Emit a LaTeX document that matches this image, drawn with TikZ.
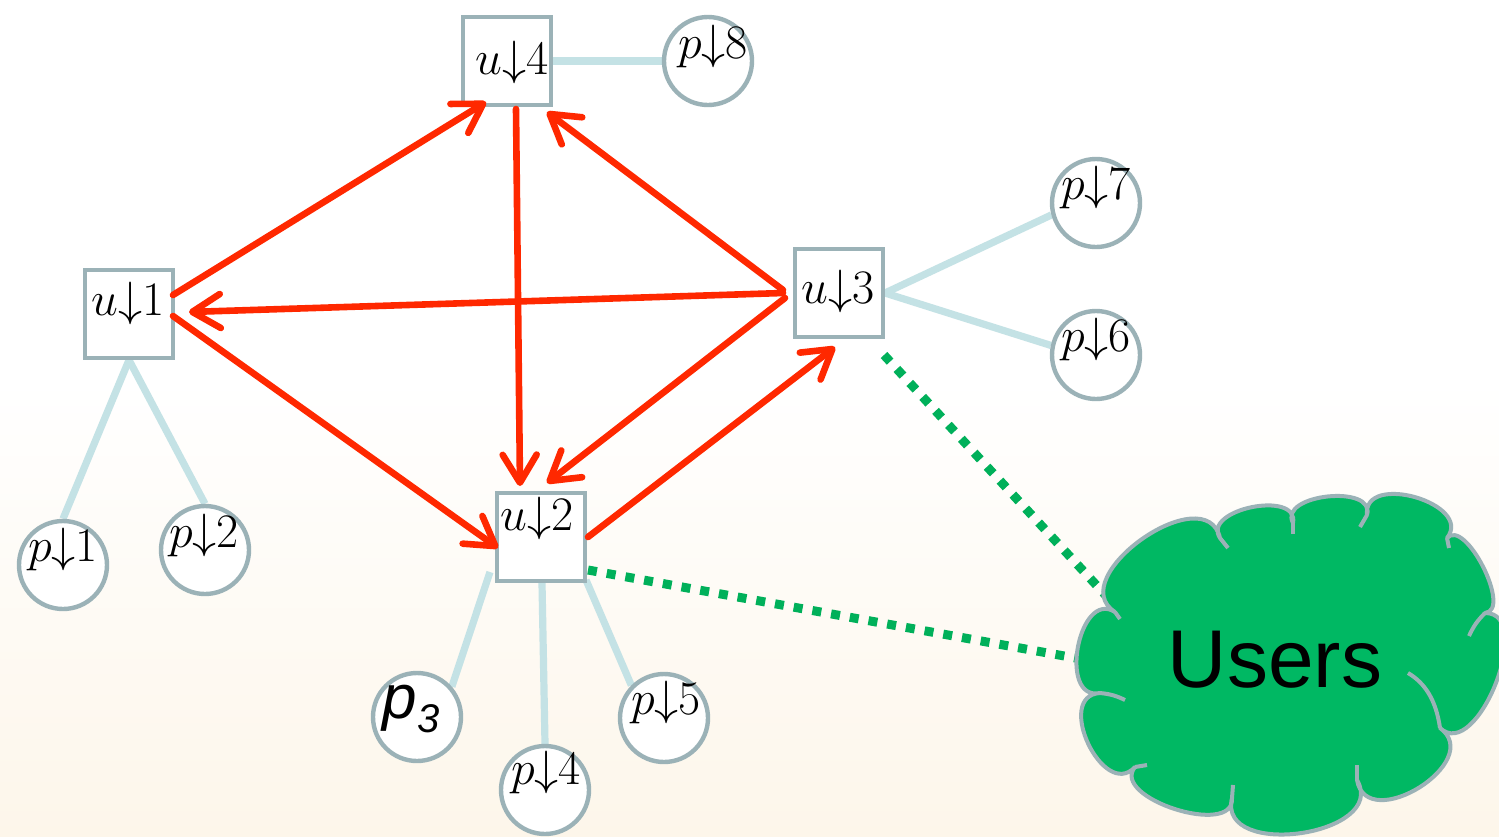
\documentclass[tikz,border=0pt]{standalone}
\usepackage{graphicx}
\usepackage{fontspec}
\newfontfamily\arialfont{Liberation Sans}
\usetikzlibrary{arrows.meta,calc}
\definecolor{bordergray}{HTML}{9BB2B7}
\definecolor{linkblue}{HTML}{C4E2E5}
\definecolor{flowred}{HTML}{FF2800}
\definecolor{usergreen}{HTML}{00B863}
\definecolor{dotgreen}{HTML}{00B05A}
\definecolor{bgcream}{HTML}{FDF6EA}
\pgfdeclarelayer{back}
\pgfsetlayers{back,main}
\newcommand{\idx}[2]{\scalebox{1.16}{$#1{\downarrow}#2$}}

\begin{document}
\begin{tikzpicture}[x=0.5pt,y=-0.5pt,
  userbox/.style={draw=bordergray, line width=2pt, fill=white, minimum size=44pt, inner sep=0pt},
  pagebox/.style={circle, draw=bordergray, line width=2.2pt, fill=white, minimum size=44pt, inner sep=0pt},
  tag/.style={inner sep=0pt, font=\fontsize{21}{24}\selectfont},
  link/.style={draw=linkblue, line width=3.6pt},
  flow/.style={draw=flowred, line width=3.3pt, line cap=round, -{Straight Barb[length=14pt,width=17pt,round]}},
  access/.style={draw=dotgreen, line width=4.5pt, dash pattern=on 4.5pt off 5pt},
  puff/.style={bend right=112, looseness=1.12*#1},
  cloudline/.style={draw=bordergray, line width=2pt},
]
\useasboundingbox (0,0) rectangle (1499,836);

% user nodes
\node[userbox] (u1) at (129,314) {};
\node[userbox] (u4) at (507,61) {};
\node[userbox] (u3) at (839,293) {};
\node[userbox] (u2) at (541,537) {};

% page nodes
\node[pagebox] (p8) at (708,61) {};
\node[pagebox] (p7) at (1096,203) {};
\node[pagebox] (p6) at (1096,355) {};
\node[pagebox] (p1) at (63,565) {};
\node[pagebox] (p2) at (205,550) {};
\node[pagebox] (p3) at (417,717) {};
\node[pagebox] (p4) at (545,790) {};
\node[pagebox] (p5) at (664,718) {};

% users cloud: puffs between junction points, then the inner stubs
\coordinate (users) at (1288,664);
\path[fill=usergreen, cloudline, line join=round]
  (1115,612) to[puff=1.2]  (1100,693) to[puff=1.3]  (1135,767)
             to[puff=0.9]  (1232,798) to[puff=1.16] (1357,780)
             to[puff=1.32] (1440,728) to[puff=0.95] (1485,613)
             to[puff=0.75] (1447,538) to[puff=1.2]  (1367,515)
             to[puff=1.0]  (1293,523) to[puff=1.05] (1220,538)
             to[puff=1.13] (1115,612) -- cycle;
\draw[cloudline] (1115,612) -- (1120,619);
\draw[cloudline] (1100,693) to[bend left=10] (1125,700);
\draw[cloudline] (1135,767) -- (1147,765);
\draw[cloudline] (1232,798) -- (1233,785);
\draw[cloudline] (1357,780) -- (1357,765);
\draw[cloudline] (1440,728) .. controls (1436,700) and (1425,683) .. (1408,673);
\draw[cloudline] (1485,613) to[bend right=10] (1469,636);
\draw[cloudline] (1447,538) -- (1449,548);
\draw[cloudline] (1367,515) -- (1360,527);
\draw[cloudline] (1293,523) -- (1293,534);
\draw[cloudline] (1220,538) -- (1228,548);
\node[inner sep=0pt, font=\arialfont\fontsize{41}{44}\selectfont] (userstext) at (1275,660) {Users};

% labels
\node[tag] (u1t) at ($(u1)+(-1,-11)$) {\idx{u}{1}};
\node[tag] (u4t) at ($(u4)+(5,1)$) {\idx{u}{4}};
\node[tag] (u3t) at ($(u3)+(-1,-2)$) {\idx{u}{3}};
\node[tag] (u2t) at ($(u2)+(-4,-19)$) {\idx{u}{2}};
\node[tag] (p8t) at ($(p8)+(5,-15)$) {\idx{p}{8}};
\node[tag] (p7t) at ($(p7)+(0,-16)$) {\idx{p}{7}};
\node[tag] (p6t) at ($(p6)+(0,-16)$) {\idx{p}{6}};
\node[tag] (p1t) at ($(p1)+(0,-16)$) {\idx{p}{1}};
\node[tag] (p2t) at ($(p2)+(-1,-15)$) {\idx{p}{2}};
\node[tag] (p4t) at ($(p4)+(1,-18)$) {\idx{p}{4}};
\node[tag] (p5t) at ($(p5)+(2,-16)$) {\idx{p}{5}};
\node[inner sep=0pt, font=\arialfont\itshape\fontsize{31}{34}\selectfont] (p3t) at ($(p3)+(-6,-8)$)
  {p\raisebox{-0.4ex}{\fontsize{20}{22}\selectfont 3}};

\begin{pgfonlayer}{back}
  % background
  \fill[white] (0,0) rectangle (1499,836);
  \shade[top color=white, bottom color=bgcream] (0,380) rectangle (1499,836);
  % page links
  \draw[link] (u1.south) -- (p1.north);
  \draw[link] (u1.south) -- (p2.north);
  \draw[link] (u4.east) -- (p8.west);
  \draw[link] (u3.east) -- (p7.195);
  \draw[link] (u3.east) -- (p6.168);
  \draw[link] ($(u2)+(-51,35)$) -- (p3.41);
  \draw[link] ($(u2)+(1,46)$) -- (p4.north);
  \draw[link] ($(u2)+(45,43)$) -- (p5.135);
  % access to the cloud
  \draw[access] ($(u3)+(45,62)$) -- ($(users)+(-177,-63)$);
  \draw[access] ($(u2)+(47,33)$) -- ($(users)+(-207,-5)$);
\end{pgfonlayer}

% links between users
\draw[flow] ($(u1)+(44,-19)$) -- ($(u4)+(-21,41)$);
\draw[flow] ($(u1)+(44,2)$) -- ($(u2)+(-43,11)$);
\draw[flow] ($(u3)+(-56,0)$) -- ($(u1)+(60,-2)$);
\draw[flow] ($(u4)+(9,48)$) -- ($(u2)+(-21,-51)$);
\draw[flow] ($(u3)+(-54,5)$) -- ($(u2)+(6,-54)$);
\draw[flow] ($(u3)+(-56,-3)$) -- ($(u4)+(40,51)$);
\draw[flow] ($(u2)+(47,0)$) -- ($(u3)+(-4,54)$);
\end{tikzpicture}
\end{document}
